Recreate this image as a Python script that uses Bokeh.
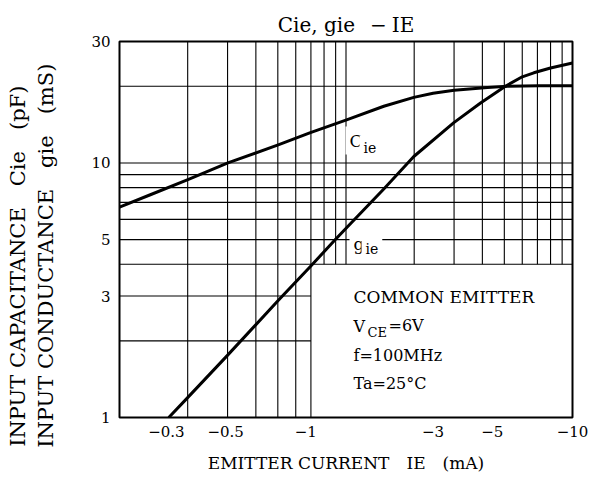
import math
from bokeh.plotting import figure
from bokeh.models import Label, FixedTicker
from bokeh.embed import file_html
from bokeh.resources import INLINE

# ---------------- data ----------------
# |I_E| in mA (axis shows negative emitter current)
ie_cie = [0.2, 0.261, 0.361, 0.51, 0.792, 1.04, 1.43, 1.96, 2.54, 3.0, 3.6, 4.8, 5.7, 7.5, 10.0]
cie_pf = [6.7, 7.5, 8.6, 10.0, 11.8, 13.15, 14.8, 16.7, 18.1, 18.8, 19.3, 19.8, 20.0, 20.1, 20.1]

ie_gie = [0.306, 0.361, 0.507, 0.792, 1.04, 1.29, 1.43, 1.96, 2.54, 3.59, 4.52, 5.6, 6.48, 7.16, 8.27, 10.0]
gie_ms = [1.0, 1.2, 1.75, 2.9, 3.92, 5.0, 5.6, 7.9, 10.6, 14.4, 17.2, 20.0, 21.8, 22.6, 23.6, 24.7]

x_ticks = [0.3, 0.5, 1.0, 3.0, 5.0, 10.0]
x_tick_labels = ["\u22120.3", "\u22120.5", "\u22121", "\u22123", "\u22125", "\u221210"]
y_ticks = [1.0, 3.0, 5.0, 10.0, 30.0]
y_tick_labels = ["1", "3", "5", "10", "30"]

x_range = (0.2, 10.0)
y_range = (1.0, 30.0)

# printed grid of the datasheet (its own 2-decade log grid 0.1..10 across the frame)
grid_v_full = [0.2, 0.3, 0.4, 0.5, 0.6, 0.7]
grid_v_upper = [0.8, 0.9, 1, 2, 3, 4, 5, 6, 7, 8, 9]
grid_h_full = [4, 5, 6, 7, 8, 9, 10, 20]
grid_h_left = [2, 3]
grid_box_corner = (0.7, 4)   # parameter box: grid x 0.7..10, y 1..4

FONT = "DejaVu Serif"

def grid_to_x(g):
    # map printed-grid units (0.1..10) onto the data axis (0.2..10)
    k = math.log10(x_range[1] / x_range[0]) / 2.0
    return x_range[0] * (g / 0.1) ** k

W, H = 590, 478
FL, FT, FR, FB = 119, 41, 572, 417  # frame edges in page pixels

p = figure(width=W, height=H, x_axis_type="log", y_axis_type="log",
           x_range=x_range, y_range=y_range,
           output_backend="svg", toolbar_location=None,
           min_border_left=FL, min_border_right=W - FR,
           min_border_top=FT, min_border_bottom=H - FB)
p.background_fill_color = "white"
p.border_fill_color = "white"
p.xgrid.visible = False
p.ygrid.visible = False
p.outline_line_color = "black"
p.outline_line_width = 2

for ax, ticks, labels, standoff in ((p.xaxis, x_ticks, x_tick_labels, 8),
                                    (p.yaxis, y_ticks, y_tick_labels, 9)):
    ax.ticker = FixedTicker(ticks=ticks, minor_ticks=[])
    ax.major_label_overrides = dict(zip(ticks, labels))
    ax.axis_line_color = None
    ax.major_tick_line_color = None
    ax.minor_tick_line_color = None
    ax.major_tick_out = 0
    ax.major_tick_in = 0
    ax.major_label_text_font = FONT
    ax.major_label_text_font_size = "15px"
    ax.major_label_text_color = "black"
    ax.major_label_standoff = standoff
    ax.axis_label_text_font = FONT
    ax.axis_label_text_font_style = "normal"
    ax.axis_label_text_color = "black"

# axis titles
p.xaxis.axis_label = "EMITTER CURRENT\u2003IE\u2003(mA)"
p.xaxis.axis_label_text_font_size = "17px"
p.xaxis.axis_label_standoff = 13

# two-column vertical title; trailing en-spaces shift the centred block so it
# starts below the frame like in the datasheet
PAD = "\u2002"
p.yaxis.axis_label = ("INPUT CAPACITANCE\u2002\u2002Cie\u2002\u2002(pF)" + PAD * 7 + "\n"
                      "INPUT CONDUCTANCE\u2002\u2002gie\u2002\u2002(mS)" + PAD * 5)
p.yaxis.axis_label_text_font_size = "21px"
p.yaxis.axis_label_text_line_height = 1.2
p.yaxis.axis_label_standoff = 30

# ---------------- grid lines ----------------
bx = grid_to_x(grid_box_corner[0])
by = grid_box_corner[1]
vx_full = [grid_to_x(g) for g in grid_v_full]
vx_up = [grid_to_x(g) for g in grid_v_upper]
GC, GW = "#000000", 1.1
p.segment(x0=vx_full, y0=[y_range[0]] * len(vx_full), x1=vx_full, y1=[y_range[1]] * len(vx_full),
          line_color=GC, line_width=GW)
p.segment(x0=vx_up, y0=[by] * len(vx_up), x1=vx_up, y1=[y_range[1]] * len(vx_up),
          line_color=GC, line_width=GW)
p.segment(x0=[x_range[0]] * len(grid_h_full), y0=grid_h_full, x1=[x_range[1]] * len(grid_h_full), y1=grid_h_full,
          line_color=GC, line_width=GW)
p.segment(x0=[x_range[0]] * len(grid_h_left), y0=grid_h_left, x1=[bx] * len(grid_h_left), y1=grid_h_left,
          line_color=GC, line_width=GW)

# ---------------- curves ----------------
p.line(ie_cie, cie_pf, line_color="black", line_width=3, line_join="round")
p.line(ie_gie, gie_ms, line_color="black", line_width=3, line_join="round")

# ---------------- texts inside the frame ----------------
def lab(text, px, py, size, mask=False):
    # px: left edge, py: vertical centre (page pixels)
    l = Label(x=px - FL, y=FB - py, x_units="screen", y_units="screen",
              text=text, text_font=FONT, text_font_size=f"{size}px",
              text_color="black", text_align="left", text_baseline="middle")
    if mask:
        l.background_fill_color = "white"
        l.padding = 4
    p.add_layout(l)
    return l

lab("C", 345, 140, 17, mask=True)
lab("ie", 359, 147, 14, mask=True)
lab("g", 349, 243, 17, mask=True)
lab("ie", 361, 248, 14, mask=True)

lab("COMMON EMITTER", 353, 296, 17)
lab("V", 353, 326, 16)
lab("CE", 367, 332, 13)
lab("=6V", 388, 324.5, 16)
lab("f=100MHz", 353, 354.5, 16)
lab("Ta=25\u00b0C", 353, 383, 16)

# ---------------- title ----------------
p.title.text = "Cie, gie\u2002\u2005\u2212\u2005IE"
p.title.align = "center"
p.title.vertical_align = "bottom"
p.title.text_font = FONT
p.title.text_font_size = "20px"
p.title.text_font_style = "normal"
p.title.text_color = "black"
p.title.standoff = 9

open("out.html", "w").write(file_html(p, INLINE))
